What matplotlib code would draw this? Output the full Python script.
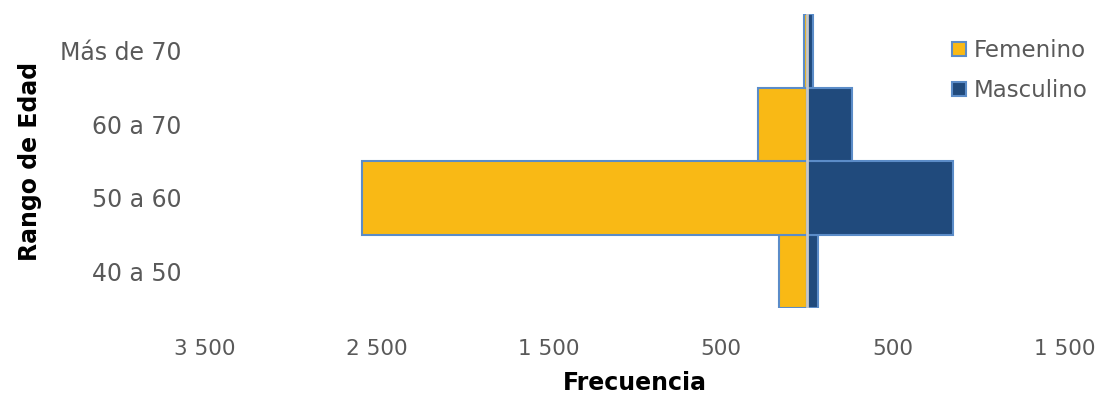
import numpy as np
import matplotlib.pyplot as plt
from matplotlib.ticker import FuncFormatter

# Datos
rangos = ["40 a 50", "50 a 60", "60 a 70", "Más de 70"]
femenino = [165, 2590, 285, 20]
masculino = [62, 850, 262, 35]
ticks_x = [-3500, -2500, -1500, -500, 500, 1500]

plt.rcParams['font.family'] = ['DejaVu Sans']

fig = plt.figure(figsize=(11.04, 3.94), dpi=100)
ax = fig.add_axes([0.1857, 0.218, 0.779, 0.7465])

y = np.arange(len(rangos))
borde = "#5B8CC8"
ax.barh(y, [-v for v in femenino], height=1.0, color="#F9B915",
        edgecolor=borde, linewidth=1.5, label="Femenino")
ax.barh(y, masculino, height=1.0, color="#204A7C",
        edgecolor=borde, linewidth=1.5, label="Masculino")
ax.axvline(0, color="#C8C8C8", linewidth=2)

ax.set_xlim(-3500, 1500)
ax.set_ylim(-0.5, len(rangos) - 0.5)
ax.set_xticks(ticks_x)
ax.xaxis.set_major_formatter(FuncFormatter(lambda v, p: f"{abs(int(v)):,}".replace(",", " ")))
ax.set_yticks(y)
ax.set_yticklabels(rangos)

for s in ax.spines.values():
    s.set_visible(False)
ax.tick_params(axis="both", length=0, labelcolor="#595959")
ax.tick_params(axis="x", pad=22, labelsize=15.5)
ax.tick_params(axis="y", pad=17, labelsize=17)

ax.set_xlabel("Frecuencia", fontsize=17, fontweight="bold", labelpad=9)
ax.set_ylabel("Rango de Edad", fontsize=17, fontweight="bold", labelpad=13)

leg = ax.legend(loc="upper left", bbox_to_anchor=(0.845, 0.985), frameon=False,
                fontsize=16.5, handlelength=0.6, handleheight=0.6,
                handletextpad=0.35, labelspacing=0.75, labelcolor="#595959")

fig.savefig("out.png", dpi=100)
